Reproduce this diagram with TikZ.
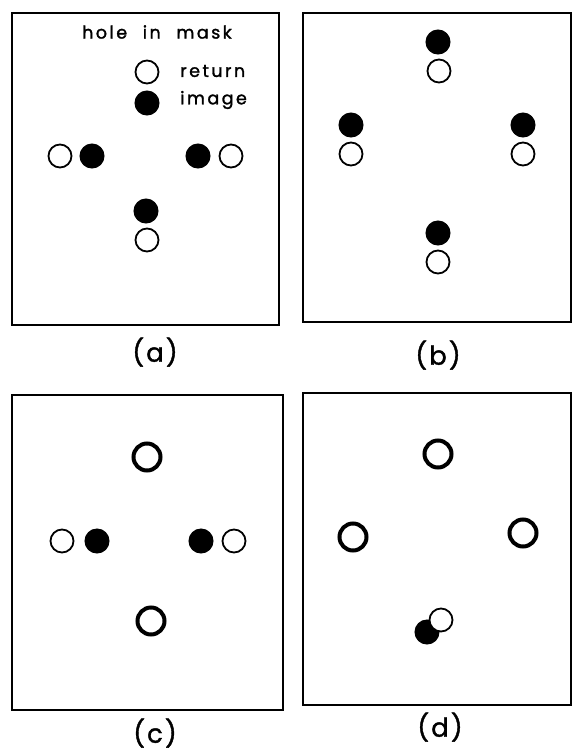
\documentclass[tikz,border=0pt]{standalone}
\usepackage{fontspec}
\setmainfont{Poppins}
\newfontfamily\lblfont[LetterSpace=14,WordSpace=2.2,FakeBold=1.6]{Poppins}
\newfontfamily\capfont[LetterSpace=8,FakeBold=1.4]{Poppins}
\begin{document}
\begin{tikzpicture}[x=1pt,y=-1pt,
  panel/.style={draw=black,line width=2pt},
  openhole/.style={circle,draw=black,fill=white,line width=1.8pt,minimum size=23pt,inner sep=0pt},
  fullhole/.style={circle,draw=black,fill=black,line width=1pt,minimum size=24pt,inner sep=0pt},
  thickhole/.style={circle,draw=black,fill=white,line width=4pt,minimum size=27pt,inner sep=0pt},
  txt/.style={font=\lblfont\fontsize{17.5}{17.5}\selectfont,inner sep=0pt},
  caption/.style={font=\capfont\fontsize{26}{26}\selectfont,inner sep=0pt}]
\useasboundingbox (0,0) rectangle (572,753);
% panel a
\draw[panel] (12,13) rectangle (279,325);
\node[txt] (ta) at (157,32) {hole in mask};
\node[openhole] (a1) at (147,72) {};
\node[txt,anchor=west] (tr) at (180,71) {return};
\node[fullhole] (a2) at (147,103) {};
\node[txt,anchor=west] (ti) at (180,100) {image};
\node[openhole] (a3) at (60,156) {};
\node[fullhole] (a4) at (92,156) {};
\node[fullhole] (a5) at (198,156) {};
\node[openhole] (a6) at (231,156) {};
\node[fullhole] (a7) at (146,211) {};
\node[openhole] (a8) at (147,240) {};
\node[caption] (la) at (155,352) {(a)};
% panel b
\draw[panel] (303,13) -- (571,13) -- (571,322) -- (303,322) -- cycle;
\node[fullhole] (b1) at (438,42) {};
\node[openhole] (b2) at (439,71) {};
\node[fullhole] (b3) at (351,125) {};
\node[openhole] (b4) at (351,154) {};
\node[fullhole] (b5) at (523,125) {};
\node[openhole] (b6) at (523,154) {};
\node[fullhole] (b7) at (438,233) {};
\node[openhole] (b8) at (438,262) {};
\node[caption] (lb) at (438,355) {(b)};
% panel c
\draw[panel] (12,395) rectangle (283,710);
\node[thickhole] (c1) at (147,457) {};
\node[openhole] (c2) at (62,541) {};
\node[fullhole] (c3) at (97,541) {};
\node[fullhole] (c4) at (201,541) {};
\node[openhole] (c5) at (234,541) {};
\node[thickhole] (c6) at (151,621) {};
\node[caption] (lc) at (155,733) {(c)};
% panel d
\draw[panel] (303,393) -- (571,393) -- (571,705) -- (303,705) -- cycle;
\node[thickhole] (d1) at (438,454) {};
\node[thickhole] (d2) at (353,537) {};
\node[thickhole] (d3) at (523,533) {};
\node[fullhole] (d4) at (427,632) {};
\node[openhole] (d5) at (441,620) {};
\node[caption] (ld) at (440,727) {(d)};
\end{tikzpicture}
\end{document}
